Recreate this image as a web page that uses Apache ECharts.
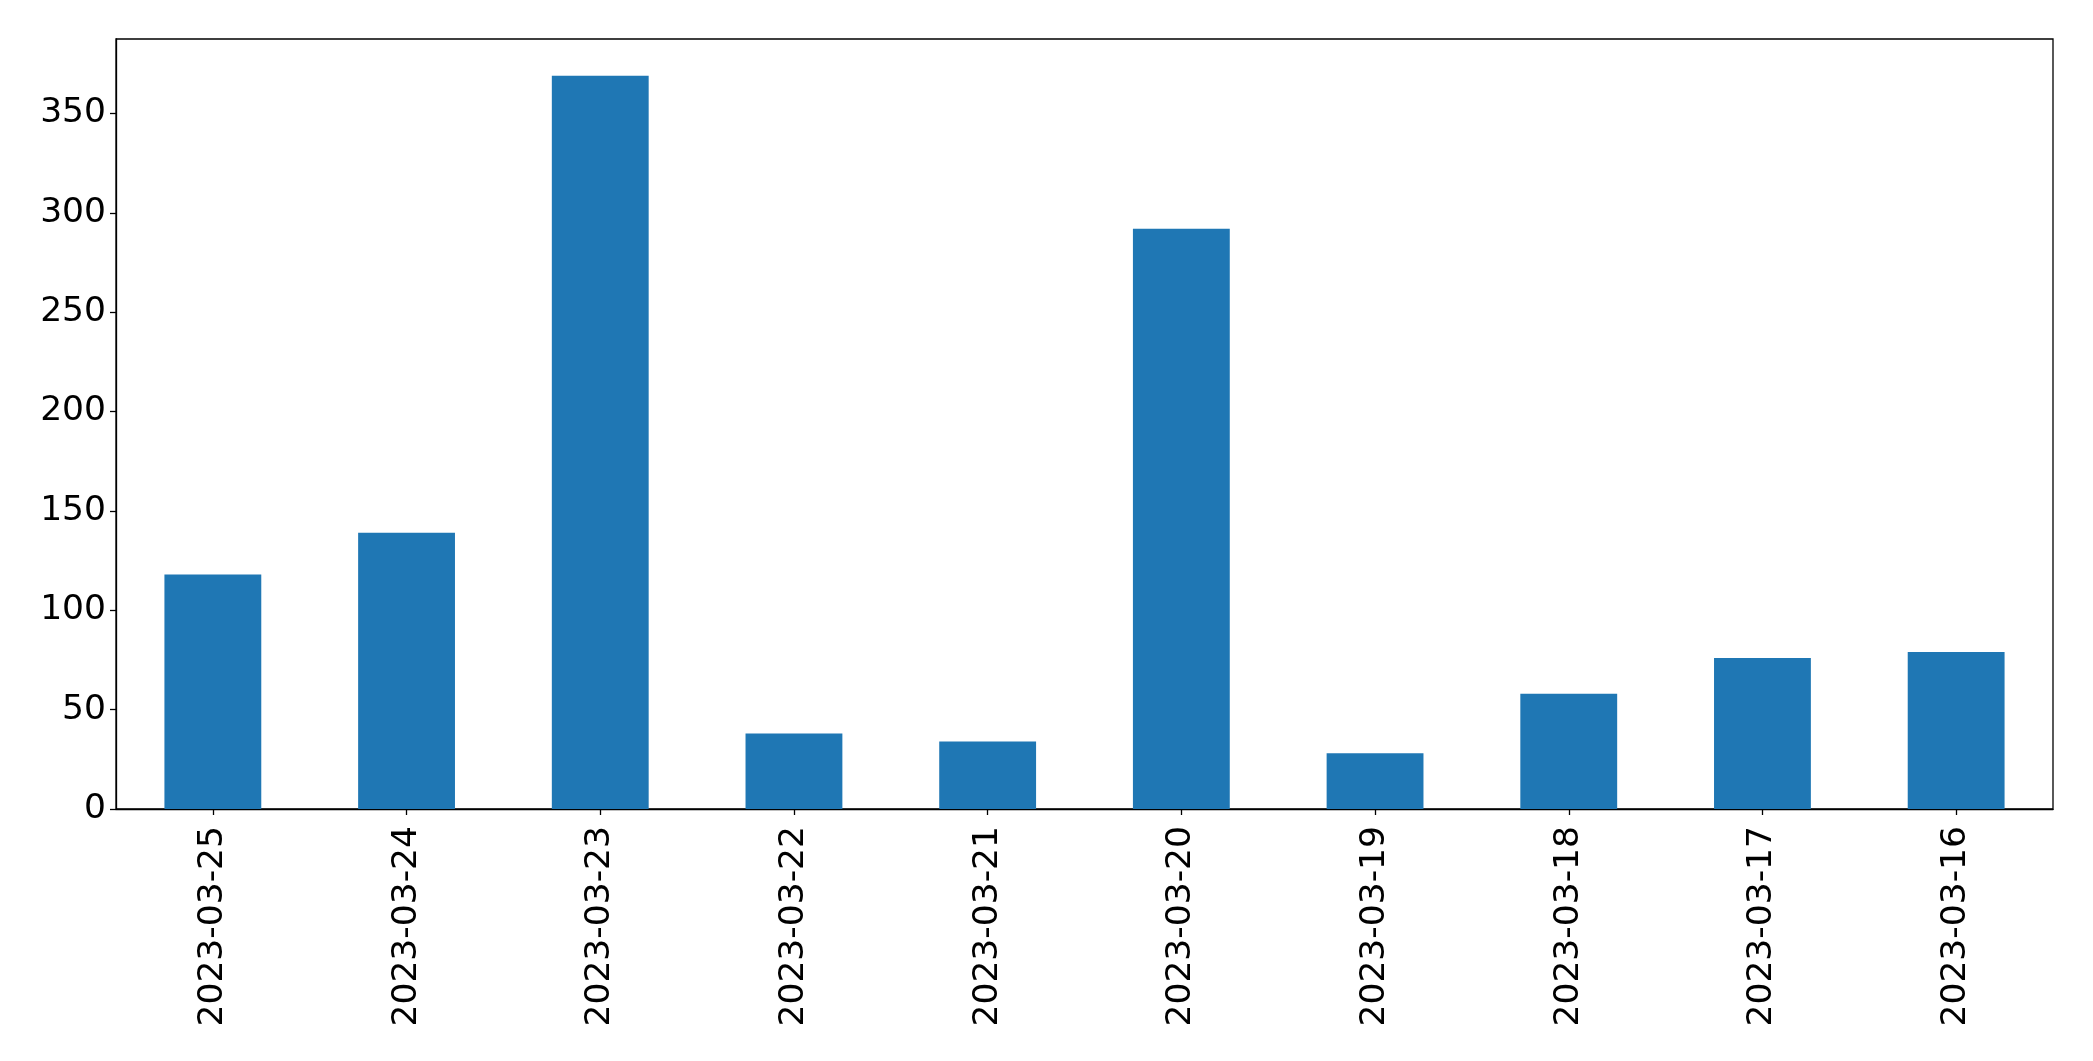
<!DOCTYPE html>
<html>
<head>
<meta charset="utf-8">
<script src="https://cdn.jsdelivr.net/npm/echarts@6/dist/echarts.min.js"></script>
<style>
html,body{margin:0;padding:0;background:#fff;}
#chart{width:2093px;height:1061px;}
</style>
</head>
<body>
<div id="chart"></div>
<script>
const categories = ["2023-03-25","2023-03-24","2023-03-23","2023-03-22","2023-03-21","2023-03-20","2023-03-19","2023-03-18","2023-03-17","2023-03-16"];
const values = [118, 139, 369, 38, 34, 292, 28, 58, 76, 79];
const yTicks = [0, 50, 100, 150, 200, 250, 300, 350];

const chart = echarts.init(document.getElementById('chart'), null, {renderer: 'canvas'});
const font = 'DejaVu Sans';
chart.setOption({
  animation: false,
  backgroundColor: '#ffffff',
  grid: {left: 116, right: 40, top: 39, bottom: 252, show: true, borderColor: '#000', borderWidth: 1.3, backgroundColor: 'transparent'},
  xAxis: {
    type: 'category',
    data: categories,
    boundaryGap: true,
    axisLine: {show: true, lineStyle: {color: '#000', width: 1.3}},
    axisTick: {show: true, alignWithLabel: true, length: 6, lineStyle: {color: '#000', width: 1.3}},
    axisLabel: {rotate: 90, margin: 17, color: '#000', fontFamily: font, fontSize: 34.5, interval: 0}
  },
  yAxis: {
    type: 'value',
    min: 0,
    max: 387.45,
    interval: 50,
    splitLine: {show: false},
    axisLine: {show: true, lineStyle: {color: '#000', width: 1.3}},
    axisTick: {show: true, length: 6, lineStyle: {color: '#000', width: 1.3}},
    axisLabel: {
      margin: 10, color: '#000', fontFamily: font, fontSize: 34.5,
      padding: [7, 0, 0, 0],
      showMaxLabel: false,
      formatter: function (v) { return yTicks.indexOf(v) >= 0 ? String(v) : ''; }
    }
  },
  series: [{
    type: 'bar',
    data: values,
    barWidth: '50%',
    itemStyle: {color: '#1f77b4'}
  }]
});
</script>
</body>
</html>
